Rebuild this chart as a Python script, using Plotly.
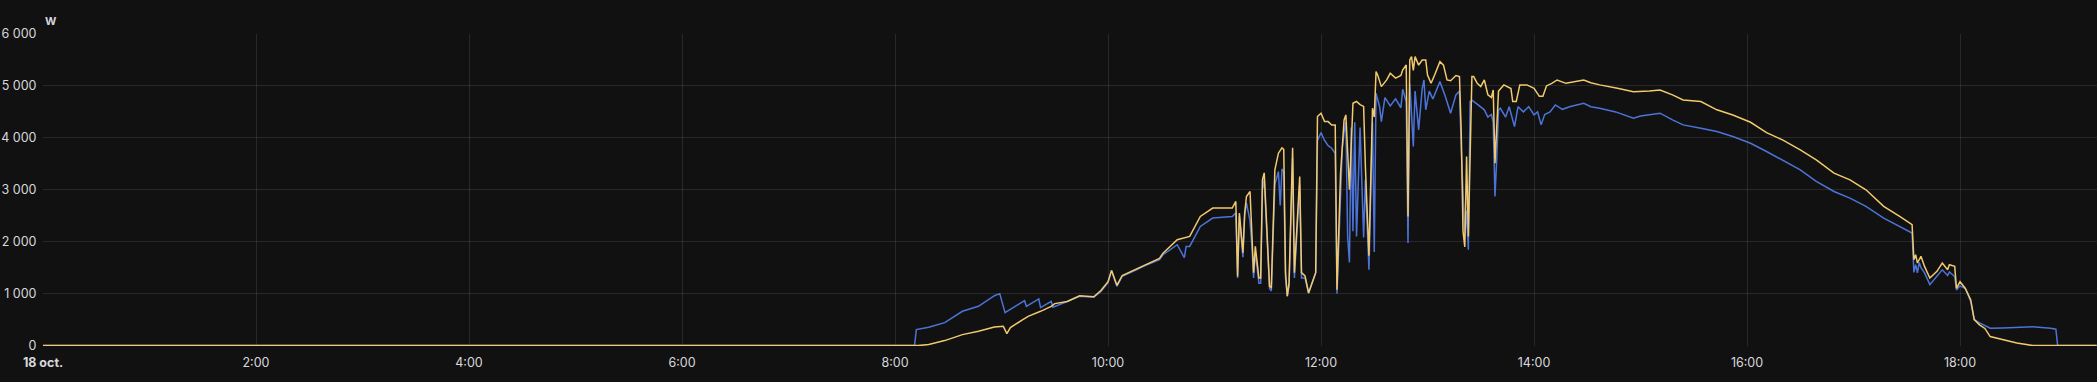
import plotly.graph_objects as go

DAY = "2023-10-18"

# Series 1 (blue)
blue_times = ["00:00","08:11","08:12","08:19","08:28","08:38","08:47","08:56","08:59","09:02","09:13","09:14",
"09:21","09:22","09:28","09:29","09:37","09:44","09:52","09:56","10:00","10:02","10:05","10:08","10:16","10:22",
"10:29","10:31","10:39","10:43","10:44","10:46","10:52","10:59","11:10","11:12","11:13","11:14","11:16","11:17",
"11:18","11:20","11:21","11:22","11:23","11:25","11:26","11:27","11:28","11:29","11:31","11:32","11:34","11:36",
"11:37","11:38","11:39","11:40","11:41","11:42","11:44","11:45","11:48","11:49","11:51","11:53","11:55","11:57",
"11:58","12:00","12:02","12:04","12:06","12:08","12:09","12:11","12:12","12:13","12:14","12:15","12:16","12:17",
"12:18","12:19","12:20","12:22","12:24","12:25","12:27","12:29","12:30","12:31","12:33","12:34","12:36","12:39",
"12:42","12:45","12:46","12:48","12:49","12:50","12:52","12:53","12:55","12:57","12:58","12:59","13:01","13:03",
"13:07","13:10","13:13","13:16","13:18","13:19","13:20","13:21","13:22","13:23","13:24","13:25","13:28","13:32",
"13:34","13:36","13:37","13:38","13:39","13:40","13:41","13:44","13:46","13:49","13:51","13:54","13:57","14:00",
"14:02","14:04","14:06","14:09","14:12","14:16","14:20","14:28","14:32","14:37","14:46","14:52","14:56","15:00",
"15:05","15:11","15:18","15:24","15:34","15:43","15:52","16:02","16:11","16:20","16:30","16:39","16:49","16:58",
"17:07","17:17","17:26","17:33","17:34","17:35","17:36","17:37","17:38","17:40","17:43","17:47","17:50","17:53",
"17:54","17:57","17:58","18:00","18:03","18:06","18:08","18:11","18:17","18:24","18:32","18:41","18:51","18:54",
"18:55","19:17"]
blue_values = [0,0,308,352,442,660,756,961,1000,635,865,755,
900,730,850,740,850,948,929,1044,1212,1448,1140,1333,1461,1558,
1654,1750,1942,1692,1910,1910,2294,2455,2487,2557,1300,2500,1700,2500,
2750,2400,1950,1300,1800,1200,1200,3000,3200,2500,1100,1050,3100,3350,
2700,3400,3350,1300,950,1150,3600,1300,3100,1300,1300,1013,1212,1400,
3950,4100,3950,3850,3800,3700,1000,2900,3800,4100,4300,2100,1600,4200,
2200,4300,2100,4200,2080,3200,1460,4300,1800,4860,4600,4313,4775,4615,
4750,4580,4935,4700,1975,5051,3833,4900,4153,4950,5115,4540,4900,4750,
5083,4800,4475,4827,4900,3800,2936,2100,2600,1846,4700,4727,4650,4540,
4400,4450,4300,2872,3600,4540,4570,4400,4600,4217,4600,4500,4600,4442,
4500,4250,4450,4500,4634,4550,4600,4667,4600,4570,4500,4420,4378,4420,
4440,4475,4346,4250,4185,4121,4025,3897,3737,3578,3385,3160,2968,2840,
2680,2455,2295,2168,1410,1558,1400,1600,1500,1400,1173,1350,1460,1350,
1420,1330,1070,1150,1100,850,500,436,333,340,353,365,333,315,
0,0]

# Series 2 (yellow)
yellow_times = ["00:00","08:13","08:19","08:28","08:38","08:47","08:56","09:01","09:03","09:05","09:12","09:15",
"09:22","09:28","09:30","09:37","09:44","09:52","09:56","10:00","10:02","10:05","10:08","10:16","10:22","10:29",
"10:31","10:39","10:46","10:52","10:59","11:10","11:12","11:13","11:14","11:16","11:17","11:18","11:20","11:21",
"11:22","11:23","11:25","11:26","11:27","11:28","11:29","11:31","11:32","11:34","11:36","11:38","11:39","11:40",
"11:41","11:42","11:44","11:45","11:48","11:49","11:51","11:53","11:55","11:57","11:58","12:00","12:02","12:04",
"12:06","12:08","12:09","12:11","12:13","12:14","12:16","12:18","12:20","12:22","12:24","12:25","12:27","12:29",
"12:30","12:31","12:32","12:34","12:37","12:39","12:42","12:45","12:46","12:48","12:49","12:50","12:51","12:52",
"12:53","12:55","12:57","12:59","13:00","13:02","13:04","13:07","13:09","13:11","13:13","13:16","13:18","13:19",
"13:20","13:21","13:22","13:23","13:25","13:26","13:28","13:30","13:32","13:34","13:36","13:37","13:38","13:40",
"13:43","13:45","13:47","13:48","13:50","13:52","13:56","14:00","14:03","14:05","14:07","14:10","14:13","14:18",
"14:23","14:28","14:32","14:37","14:47","14:56","15:05","15:11","15:18","15:24","15:34","15:43","15:52","16:02",
"16:11","16:20","16:30","16:39","16:49","16:58","17:07","17:17","17:26","17:33","17:34","17:35","17:36","17:38",
"17:40","17:43","17:47","17:50","17:53","17:54","17:57","17:58","18:00","18:03","18:06","18:08","18:11","18:14",
"18:17","18:24","18:32","18:41","19:17"]
yellow_values = [0,0,20,96,211,275,359,372,230,346,500,564,
660,756,808,850,960,940,1060,1230,1448,1160,1350,1480,1580,1680,
1780,2038,2102,2487,2648,2648,2776,1333,2552,1788,2552,2871,2968,2038,
1404,1910,1300,1300,3192,3327,2680,1140,1120,3384,3705,3807,3780,1404,
950,1212,3807,1404,3256,1404,1340,1013,1212,1404,4410,4474,4313,4313,
4249,4249,1077,3320,4345,4442,3000,4667,4700,4640,4605,3450,1730,4570,
4400,5275,5200,4987,5115,5243,5150,5200,5307,5403,2487,5500,5564,5300,
5564,5400,5500,5500,5211,5050,5211,5468,5400,5115,5100,5200,5180,4090,
2200,1900,3640,2100,5180,5180,5051,4990,5115,4830,4780,4923,3513,4900,
5020,4987,4950,4700,4700,5020,5020,4955,4800,4800,5000,5050,5115,5050,
5080,5115,5060,5020,4955,4890,4900,4923,4827,4730,4700,4540,4440,4300,
4100,3960,3770,3578,3320,3192,3000,2680,2487,2327,1654,1750,1590,1720,
1525,1300,1430,1590,1460,1558,1525,1103,1230,1100,885,500,400,330,
173,115,50,0,0]

tick_hours = [0, 2, 4, 6, 8, 10, 12, 14, 16, 18]
tick_labels = ["<b>18 oct.</b>", "2:00", "4:00", "6:00", "8:00", "10:00", "12:00", "14:00", "16:00", "18:00"]
y_ticks = [0, 1000, 2000, 3000, 4000, 5000, 6000]
y_labels = ["0", "1 000", "2 000", "3 000", "4 000", "5 000", "6 000"]


def ts(t):
    return f"{DAY} {t}:00"


fig = go.Figure()
fig.add_trace(go.Scatter(x=[ts(t) for t in blue_times], y=blue_values, mode="lines",
                         name="Série 1", line=dict(color="#4C74D8", width=1.5)))
fig.add_trace(go.Scatter(x=[ts(t) for t in yellow_times], y=yellow_values, mode="lines",
                         name="Série 2", line=dict(color="#F2C96D", width=1.5)))

grid = "rgba(204,204,220,0.13)"
txt = "#d8d8dc"
fig.update_layout(
    width=2097, height=382,
    paper_bgcolor="#111111", plot_bgcolor="#111111",
    margin=dict(l=43, r=0, t=34, b=36),
    showlegend=False,
    font=dict(family="Inter, Roboto, sans-serif", size=12, color=txt),
    xaxis=dict(
        type="date", automargin=False,
        range=[f"{DAY} 00:00:00", f"{DAY} 19:17:10"],
        tickvals=[ts(f"{h:02d}:00") for h in tick_hours],
        ticktext=tick_labels,
        showgrid=True, gridcolor=grid, gridwidth=1,
        zeroline=False, showline=False,
        ticks="outside", ticklen=5, tickcolor="rgba(0,0,0,0)",
        tickfont=dict(size=12.5, color=txt),
    ),
    yaxis=dict(
        automargin=False,
        range=[-8, 6000],
        tickvals=y_ticks, ticktext=y_labels,
        showgrid=True, gridcolor=grid, gridwidth=1,
        zeroline=False, showline=False,
        ticks="outside", ticklen=3, tickcolor="rgba(0,0,0,0)",
        tickfont=dict(size=12.5, color=txt),
    ),
    annotations=[dict(text="<b>W</b>", xref="paper", yref="paper", x=0.0, y=1 + 13 / 312,
                      xanchor="left", yanchor="middle", showarrow=False,
                      font=dict(size=11, color=txt))],
)

fig.write_html("out.html", config={"displayModeBar": False},
               post_script="document.body.style.margin='0';document.body.style.background='#111111';")
